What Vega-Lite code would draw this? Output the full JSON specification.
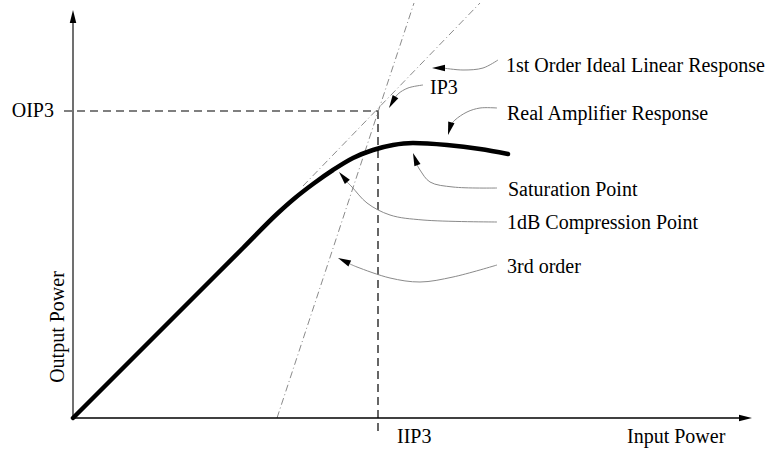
{
  "$schema": "https://vega.github.io/schema/vega-lite/v6.json",
  "width": 773,
  "height": 450,
  "autosize": {"type": "fit", "contains": "padding"},
  "padding": 0,
  "background": "white",
  "config": {"view": {"stroke": null}},
  "datasets": {
    "lines": [
      {"g": "curve", "id": "c", "o": 0, "x": 0, "y": 0},
      {"g": "curve", "id": "c", "o": 1, "x": 60, "y": 60},
      {"g": "curve", "id": "c", "o": 2, "x": 120, "y": 120},
      {"g": "curve", "id": "c", "o": 3, "x": 170, "y": 170},
      {"g": "curve", "id": "c", "o": 4, "x": 205, "y": 205},
      {"g": "curve", "id": "c", "o": 5, "x": 222, "y": 220},
      {"g": "curve", "id": "c", "o": 6, "x": 240, "y": 234},
      {"g": "curve", "id": "c", "o": 7, "x": 260, "y": 248},
      {"g": "curve", "id": "c", "o": 8, "x": 280, "y": 260},
      {"g": "curve", "id": "c", "o": 9, "x": 300, "y": 268},
      {"g": "curve", "id": "c", "o": 10, "x": 320, "y": 273},
      {"g": "curve", "id": "c", "o": 11, "x": 340, "y": 275},
      {"g": "curve", "id": "c", "o": 12, "x": 374, "y": 273},
      {"g": "curve", "id": "c", "o": 13, "x": 407, "y": 269},
      {"g": "curve", "id": "c", "o": 14, "x": 435, "y": 264},
      {"g": "dashdot", "id": "first", "o": 0, "x": 230, "y": 232},
      {"g": "dashdot", "id": "first", "o": 1, "x": 407, "y": 415},
      {"g": "dashdot", "id": "third", "o": 0, "x": 204, "y": 0},
      {"g": "dashdot", "id": "third", "o": 1, "x": 341, "y": 415},
      {"g": "dash", "id": "h", "o": 0, "x": -9, "y": 307},
      {"g": "dash", "id": "h", "o": 1, "x": 305, "y": 307},
      {"g": "dash", "id": "v", "o": 0, "x": 305, "y": 307},
      {"g": "dash", "id": "v", "o": 1, "x": 305, "y": -14},
      {"g": "yaxis", "id": "ya", "o": 0, "x": 0, "y": 0},
      {"g": "yaxis", "id": "ya", "o": 1, "x": 0, "y": 396},
      {"g": "xaxis", "id": "xa", "o": 0, "x": 0, "y": 0},
      {"g": "xaxis", "id": "xa", "o": 1, "x": 666, "y": 0},
      {"g": "ann", "id": "a1", "o": 0, "x": 425, "y": 358},
      {"g": "ann", "id": "a1", "o": 1, "x": 410, "y": 350},
      {"g": "ann", "id": "a1", "o": 2, "x": 390, "y": 348},
      {"g": "ann", "id": "a1", "o": 3, "x": 370, "y": 350},
      {"g": "ann", "id": "a2", "o": 0, "x": 350, "y": 333},
      {"g": "ann", "id": "a2", "o": 1, "x": 335, "y": 330},
      {"g": "ann", "id": "a2", "o": 2, "x": 325, "y": 324},
      {"g": "ann", "id": "a2", "o": 3, "x": 320, "y": 317},
      {"g": "ann", "id": "a3", "o": 0, "x": 424, "y": 310},
      {"g": "ann", "id": "a3", "o": 1, "x": 407, "y": 310},
      {"g": "ann", "id": "a3", "o": 2, "x": 394, "y": 306},
      {"g": "ann", "id": "a3", "o": 3, "x": 382, "y": 298},
      {"g": "ann", "id": "a3", "o": 4, "x": 377, "y": 292},
      {"g": "ann", "id": "a4", "o": 0, "x": 424, "y": 230},
      {"g": "ann", "id": "a4", "o": 1, "x": 380, "y": 231},
      {"g": "ann", "id": "a4", "o": 2, "x": 357, "y": 236},
      {"g": "ann", "id": "a4", "o": 3, "x": 347, "y": 248},
      {"g": "ann", "id": "a4", "o": 4, "x": 343, "y": 255},
      {"g": "ann", "id": "a5", "o": 0, "x": 424, "y": 196},
      {"g": "ann", "id": "a5", "o": 1, "x": 350, "y": 198},
      {"g": "ann", "id": "a5", "o": 2, "x": 317, "y": 203},
      {"g": "ann", "id": "a5", "o": 3, "x": 294, "y": 215},
      {"g": "ann", "id": "a5", "o": 4, "x": 279, "y": 231},
      {"g": "ann", "id": "a5", "o": 5, "x": 272, "y": 238},
      {"g": "ann", "id": "a6", "o": 0, "x": 424, "y": 153},
      {"g": "ann", "id": "a6", "o": 1, "x": 380, "y": 141},
      {"g": "ann", "id": "a6", "o": 2, "x": 347, "y": 136},
      {"g": "ann", "id": "a6", "o": 3, "x": 317, "y": 140},
      {"g": "ann", "id": "a6", "o": 4, "x": 284, "y": 151},
      {"g": "ann", "id": "a6", "o": 5, "x": 277, "y": 154}
    ],
    "heads": [
      {"id": "ya", "x": 0, "y": 408, "a": 0},
      {"id": "xa", "x": 679, "y": 0, "a": 90},
      {"id": "a1", "x": 359, "y": 350, "a": 270},
      {"id": "a2", "x": 316, "y": 310, "a": 210},
      {"id": "a3", "x": 375, "y": 283, "a": 195},
      {"id": "a4", "x": 340, "y": 265, "a": 340},
      {"id": "a5", "x": 266, "y": 246, "a": 320},
      {"id": "a6", "x": 265, "y": 160, "a": 295}
    ],
    "labels": [
      {"k": "left", "t": "1st Order Ideal Linear Response", "x": 433, "y": 352},
      {"k": "left", "t": "IP3", "x": 357, "y": 330},
      {"k": "left", "t": "Real Amplifier Response", "x": 434, "y": 304},
      {"k": "left", "t": "Saturation Point", "x": 435, "y": 228},
      {"k": "left", "t": "1dB Compression Point", "x": 434, "y": 195},
      {"k": "left", "t": "3rd order", "x": 434, "y": 151},
      {"k": "left", "t": "IIP3", "x": 324, "y": -19},
      {"k": "left", "t": "Input Power", "x": 554, "y": -19},
      {"k": "right", "t": "OIP3", "x": -19, "y": 307},
      {"k": "vert", "t": "Output Power", "x": -15, "y": 91}
    ]
  },
  "encoding": {
    "x": {"field": "x", "type": "quantitative", "scale": {"domain": [-73, 700], "nice": false, "zero": false}, "axis": null},
    "y": {"field": "y", "type": "quantitative", "scale": {"domain": [-32, 418], "nice": false, "zero": false}, "axis": null}
  },
  "layer": [
    {
      "data": {"name": "lines"},
      "transform": [{"filter": "datum.g === 'dash'"}],
      "mark": {"type": "line", "color": "black", "strokeWidth": 1.2, "strokeDash": [8, 5]},
      "encoding": {"detail": {"field": "id"}, "order": {"field": "o"}}
    },
    {
      "data": {"name": "lines"},
      "transform": [{"filter": "datum.g === 'dashdot'"}],
      "mark": {"type": "line", "color": "#8a8a8a", "strokeWidth": 1, "strokeDash": [7, 3, 1, 3]},
      "encoding": {"detail": {"field": "id"}, "order": {"field": "o"}}
    },
    {
      "data": {"name": "lines"},
      "transform": [{"filter": "datum.g === 'yaxis'"}],
      "mark": {"type": "line", "color": "#707070", "strokeWidth": 2},
      "encoding": {"order": {"field": "o"}}
    },
    {
      "data": {"name": "lines"},
      "transform": [{"filter": "datum.g === 'xaxis'"}],
      "mark": {"type": "line", "color": "black", "strokeWidth": 1.5},
      "encoding": {"order": {"field": "o"}}
    },
    {
      "data": {"name": "lines"},
      "transform": [{"filter": "datum.g === 'curve'"}],
      "mark": {"type": "line", "color": "black", "strokeWidth": 4.5, "interpolate": "monotone", "strokeCap": "round"},
      "encoding": {"order": {"field": "o"}}
    },
    {
      "data": {"name": "lines"},
      "transform": [{"filter": "datum.g === 'ann'"}],
      "mark": {"type": "line", "color": "#8a8a8a", "strokeWidth": 1, "interpolate": "catmull-rom"},
      "encoding": {"detail": {"field": "id"}, "order": {"field": "o"}}
    },
    {
      "data": {"name": "heads"},
      "mark": {"type": "point", "shape": "M0,0L0.5,2L-0.5,2Z", "filled": true, "color": "black", "opacity": 1, "size": 169},
      "encoding": {"angle": {"field": "a", "type": "quantitative", "scale": null}}
    },
    {
      "data": {"name": "labels"},
      "transform": [{"filter": "datum.k === 'left'"}],
      "mark": {"type": "text", "align": "left", "baseline": "middle", "font": "Liberation Serif", "fontSize": 20, "color": "black"},
      "encoding": {"text": {"field": "t"}}
    },
    {
      "data": {"name": "labels"},
      "transform": [{"filter": "datum.k === 'right'"}],
      "mark": {"type": "text", "align": "right", "baseline": "middle", "font": "Liberation Serif", "fontSize": 20, "color": "black"},
      "encoding": {"text": {"field": "t"}}
    },
    {
      "data": {"name": "labels"},
      "transform": [{"filter": "datum.k === 'vert'"}],
      "mark": {"type": "text", "align": "center", "baseline": "middle", "angle": 270, "font": "Liberation Serif", "fontSize": 20, "color": "black"},
      "encoding": {"text": {"field": "t"}}
    }
  ]
}
